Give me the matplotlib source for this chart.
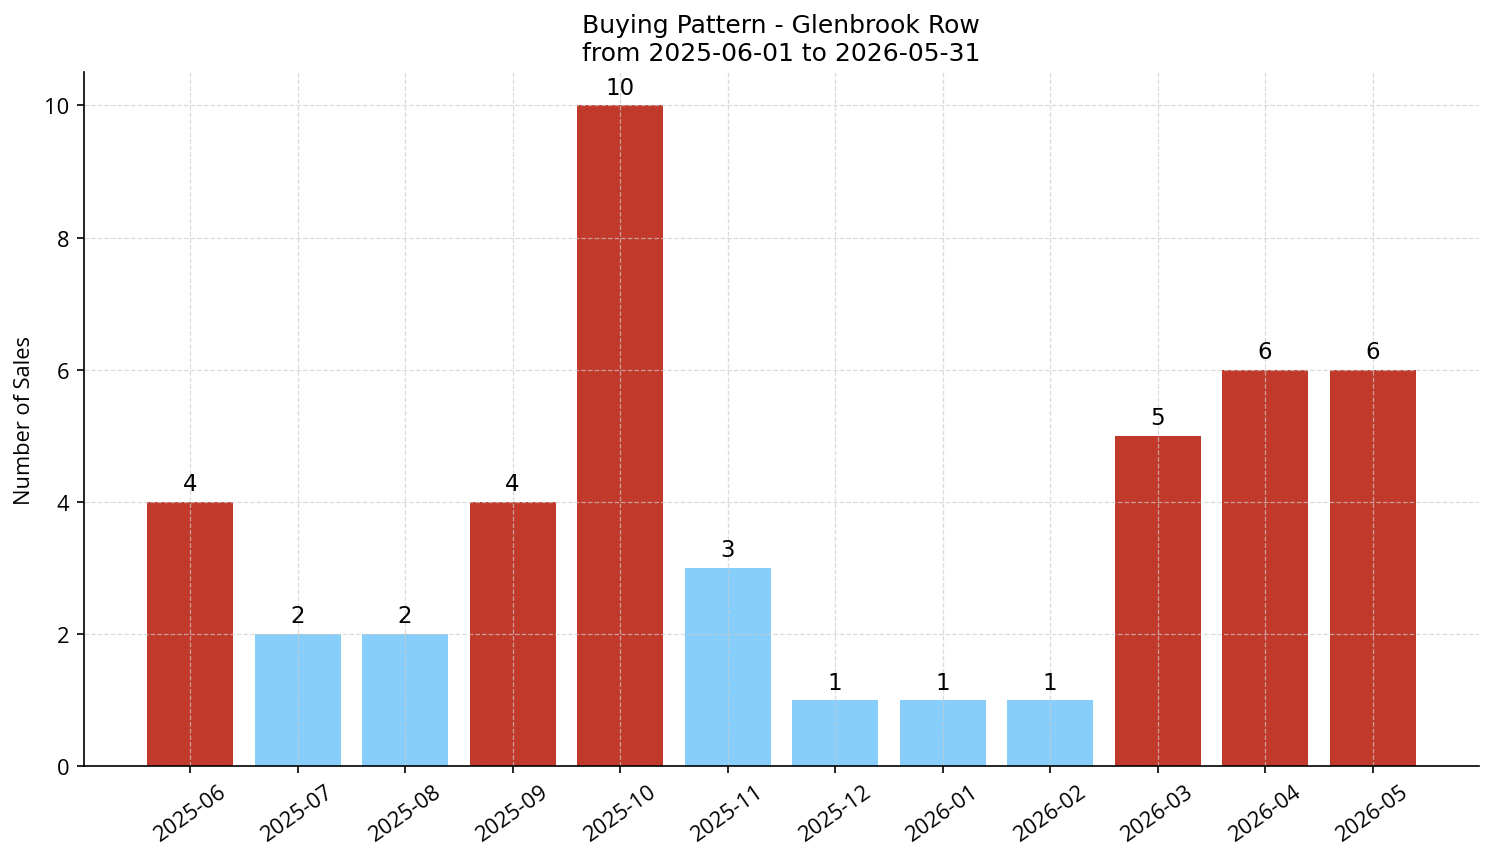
import matplotlib
matplotlib.use("Agg")
import matplotlib.pyplot as plt

months = ["2025-06", "2025-07", "2025-08", "2025-09", "2025-10", "2025-11",
          "2025-12", "2026-01", "2026-02", "2026-03", "2026-04", "2026-05"]
sales = [4, 2, 2, 4, 10, 3, 1, 1, 1, 5, 6, 6]
high_months = ["2025-06", "2025-09", "2025-10", "2026-03", "2026-04", "2026-05"]

RED = "#c0392b"
BLUE = "#87cefa"
colors = [RED if m in high_months else BLUE for m in months]

fig, ax = plt.subplots(figsize=(9.96, 5.7533), dpi=150)
x = range(len(months))
ax.bar(x, sales, color=colors, width=0.8)
for xi, v in zip(x, sales):
    ax.text(xi, v + 0.1, str(v), ha="center", va="bottom", fontsize=11)

ax.set_xticks(list(x))
ax.set_xticklabels(months, rotation=35, fontsize=10.5, family="Open Sans")
for lbl in ax.get_yticklabels():
    lbl.set_family("Open Sans")
ax.tick_params(axis="y", labelsize=10.5)
ax.set_ylim(0, 10.5)
ax.set_yticks([0, 2, 4, 6, 8, 10])
ax.set_ylabel("Number of Sales", fontsize=10.5, family="Open Sans")
ax.set_title("Buying Pattern - Glenbrook Row\nfrom 2025-06-01 to 2026-05-31", fontsize=12)
ax.grid(True, linestyle="--", color="#cccccc", alpha=0.7, linewidth=0.6)
ax.spines["top"].set_visible(False)
ax.spines["right"].set_visible(False)

fig.subplots_adjust(left=0.056, right=0.99, top=0.915, bottom=0.111)
fig.savefig("out.png", dpi=150)
